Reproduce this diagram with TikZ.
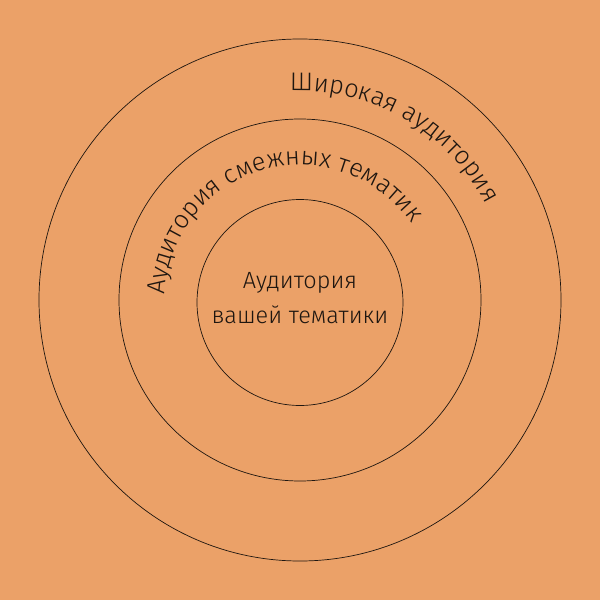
\documentclass[tikz,border=0pt]{standalone}
\usepackage{fontspec}
\setmainfont{Fira Sans Light}
\usetikzlibrary{decorations.text}
\definecolor{bg}{RGB}{235,161,104}
\definecolor{ink}{RGB}{30,22,16}
\tikzset{
  ring/.style={draw=ink, line width=0.7pt},
  arctext/.style={decorate, decoration={text along path, text align=center,
     text color=ink, text={#1}}},
}
\begin{document}
\begin{tikzpicture}[x=1pt,y=1pt]
\fill[bg] (-300,-300) rectangle (300,300);
\useasboundingbox (-300,-300) rectangle (300,300);
\node[ring, circle, minimum size=522pt, inner sep=0pt] (outer) at (0,0) {};
\node[ring, circle, minimum size=362pt, inner sep=0pt] (middle) at (0,0) {};
\node[ring, circle, minimum size=206pt, inner sep=0pt] (inner) at (0,-2.5) {};
\path[arctext={|\fontsize{25.5}{26}\selectfont|Широкая аудитория}]
  (111:209) arc[start angle=111, end angle=9, radius=209];
\path[arctext={|\fontsize{25.5}{26}\selectfont|Аудитория смежных тематик}]
  (188:135) arc[start angle=188, end angle=24, radius=135];
\node[font=\fontsize{23.5}{26}\selectfont, text=ink, anchor=base] (l1) at (0,12) {Аудитория};
\node[font=\fontsize{23.5}{26}\selectfont, text=ink, anchor=base] (l2) at (0,-23) {вашей тематики};
\end{tikzpicture}
\end{document}
